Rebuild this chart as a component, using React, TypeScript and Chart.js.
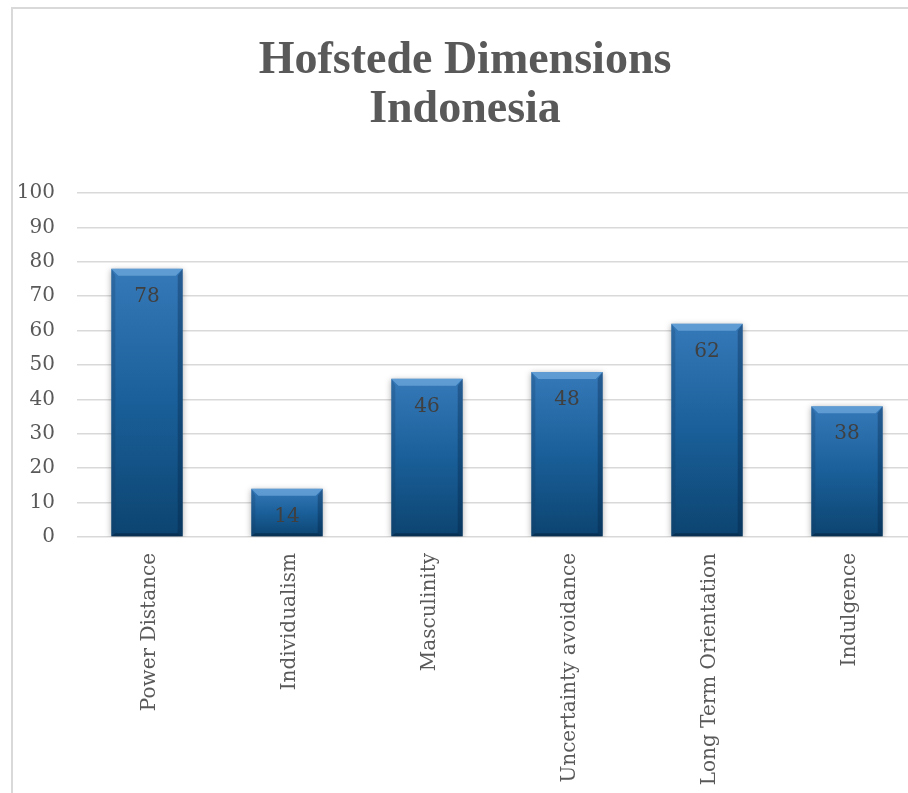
import React, { useEffect, useRef } from "react";
import { Chart, registerables } from "chart.js";

Chart.register(...registerables);

const categories = [
  "Power Distance",
  "Individualism",
  "Masculinity",
  "Uncertainty avoidance",
  "Long Term Orientation",
  "Indulgence",
];
const values = [78, 14, 46, 48, 62, 38];
const titleLines = ["Hofstede Dimensions", "Indonesia"];
const yMin = 0;
const yMax = 100;
const yStep = 10;

const W = 930;
const H = 793;

const decorPlugin = {
  id: "decor",
  beforeDraw(chart: any) {
    const ctx = chart.ctx;
    ctx.save();
    ctx.fillStyle = "#ffffff";
    ctx.fillRect(0, 0, chart.width, chart.height);
    ctx.strokeStyle = "#d9d9d9";
    ctx.lineWidth = 2;
    ctx.beginPath();
    ctx.moveTo(12, chart.height + 5);
    ctx.lineTo(12, 8);
    ctx.lineTo(chart.width + 5, 8);
    ctx.stroke();
    ctx.fillStyle = "#595959";
    ctx.font = 'bold 46px "Liberation Serif"';
    ctx.textAlign = "center";
    ctx.textBaseline = "alphabetic";
    ctx.fillText(titleLines[0], 465, 73);
    ctx.fillText(titleLines[1], 465, 122);
    ctx.restore();
  },
  beforeDatasetsDraw(chart: any) {
    const ctx = chart.ctx;
    ctx.save();
    ctx.shadowColor = "rgba(0,0,0,0.32)";
    ctx.shadowBlur = 6;
    ctx.shadowOffsetX = 0;
    ctx.shadowOffsetY = 1;
  },
  afterDatasetsDraw(chart: any) {
    const ctx = chart.ctx;
    ctx.restore();
    const meta = chart.getDatasetMeta(0);
    ctx.save();
    meta.data.forEach((bar: any, i: number) => {
      const x0 = bar.x - bar.width / 2;
      const x1 = bar.x + bar.width / 2;
      const y0 = bar.y;
      const y1 = bar.base;
      const b = 7;
      const poly = (pts: number[][], color: string) => {
        ctx.beginPath();
        ctx.moveTo(pts[0][0], pts[0][1]);
        for (let k = 1; k < pts.length; k++) ctx.lineTo(pts[k][0], pts[k][1]);
        ctx.closePath();
        ctx.fillStyle = color;
        ctx.fill();
      };
      poly([[x0, y0], [x1, y0], [x1 - b, y0 + b], [x0 + b, y0 + b]], "rgba(130,185,235,0.55)");
      poly([[x0, y0], [x0 + 4, y0 + b], [x0 + 4, y1 - 3], [x0, y1]], "rgba(20,60,100,0.25)");
      poly([[x1, y0], [x1, y1], [x1 - 5, y1 - 3], [x1 - 5, y0 + b]], "rgba(0,25,55,0.3)");
      poly([[x0, y1], [x1, y1], [x1 - 5, y1 - 3], [x0 + 4, y1 - 3]], "rgba(0,20,40,0.4)");
      ctx.fillStyle = "#404040";
      ctx.font = '20px "DejaVu Serif"';
      ctx.textAlign = "center";
      ctx.textBaseline = "middle";
      ctx.fillText(String(values[i]), bar.x, y0 + 28);
    });
    ctx.restore();
  },
};

export default function App() {
  const ref = useRef<HTMLCanvasElement>(null);
  useEffect(() => {
    if (!ref.current) return;
    const chart = new Chart(ref.current, {
      type: "bar",
      data: {
        labels: categories,
        datasets: [
          {
            data: values,
            backgroundColor: (c: any) => {
              const chart = c.chart;
              const ys = chart.scales && chart.scales.y;
              if (!ys || c.dataIndex === undefined) return "#1b5e97";
              const top = ys.getPixelForValue(values[c.dataIndex]);
              const bottom = ys.getPixelForValue(0);
              if (!isFinite(top) || !isFinite(bottom) || top === bottom) return "#1b5e97";
              const g = chart.ctx.createLinearGradient(0, top, 0, bottom);
              g.addColorStop(0, "#3679b9");
              g.addColorStop(0.5, "#1a5f99");
              g.addColorStop(1, "#0c4470");
              return g;
            },
            borderWidth: 0,
            barPercentage: 0.51,
            categoryPercentage: 1,
          },
        ],
      },
      options: {
        animation: false,
        responsive: false,
        devicePixelRatio: 1,
        layout: { padding: { top: 193, left: 0, right: W - 917, bottom: 0 } },
        plugins: {
          legend: { display: false },
          title: { display: false },
          tooltip: { enabled: false },
        },
        scales: {
          x: {
            grid: { display: false, drawTicks: false },
            border: { display: false },
            ticks: {
              minRotation: 90,
              maxRotation: 90,
              autoSkip: false,
              padding: 16,
              labelOffset: 3,
              color: "#595959",
              font: { family: "DejaVu Serif", size: 20 },
            },
            afterFit: (s: any) => {
              s.height = H - 537;
            },
          },
          y: {
            min: yMin,
            max: yMax,
            grid: { color: "#d9d9d9", lineWidth: 1.5, drawTicks: false },
            border: { display: false },
            ticks: {
              stepSize: yStep,
              padding: 22,
              color: "#595959",
              font: { family: "DejaVu Serif", size: 20 },
            },
            afterFit: (s: any) => {
              s.width = 77;
            },
          },
        },
      },
      plugins: [decorPlugin],
    });
    return () => chart.destroy();
  }, []);
  return (
    <div
      style={{
        position: "fixed",
        left: 0,
        top: 0,
        width: 908,
        height: 793,
        overflow: "hidden",
        background: "#fff",
      }}
    >
      <canvas ref={ref} width={W} height={H} style={{ display: "block", width: W, height: H }} />
    </div>
  );
}
